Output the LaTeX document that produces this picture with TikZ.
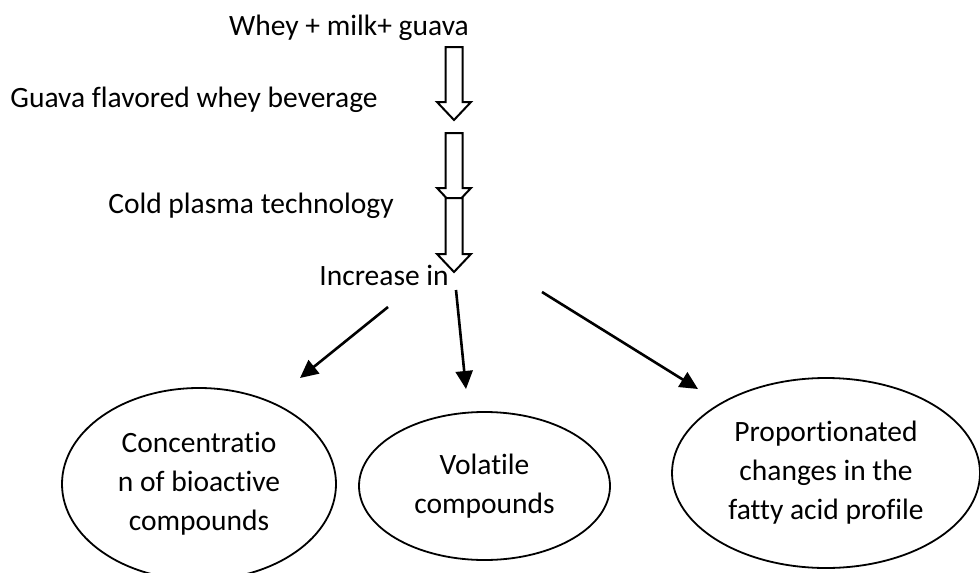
\documentclass[tikz,border=0pt]{standalone}
\usepackage{fontspec}
\setmainfont{Carlito}[Ligatures={NoCommon}]
\usetikzlibrary{shapes.geometric,arrows.meta}
\tikzset{
  lbl/.style={anchor=base,inner sep=0pt,font=\fontsize{29.5}{39}\selectfont},
  oval/.style={draw,ellipse,line width=1.8pt,inner sep=0pt,align=center,font=\fontsize{29.5}{39}\selectfont},
  blockarrow/.style={draw,fill=white,line width=2pt,line join=miter},
  conn/.style={line width=2.6pt,-{Triangle[length=18pt,width=17pt]}},
}
\newcommand\myblockarrow[4]{% x-center, top, head start, tip
  \draw[blockarrow] (#1-8.5,#2) -- (#1+8.5,#2) -- (#1+8.5,#3) -- (#1+17,#3) -- (#1,#4)
    -- (#1-17,#3) -- (#1-8.5,#3) -- cycle;}
\begin{document}
\begin{tikzpicture}[x=1pt,y=-1pt]
\clip (0,0) rectangle (980,573);
\fill[white] (0,0) rectangle (980,573);
\node[lbl] (whey) at (349,35) {Whey + milk+ guava};
\node[lbl] (bev) at (194,107) {Guava flavored whey beverage};
\node[lbl] (cold) at (251,213) {Cold plasma technology};
\node[lbl] (inc) at (384,285) {Increase in};
\myblockarrow{454}{47}{102}{120}
\myblockarrow{454}{133}{188}{206}
\myblockarrow{454}{198}{254}{272}
\node[oval,minimum width=274pt,minimum height=192pt] (conc) at (199,484) {Concentratio\\n of bioactive\\compounds};
\node[oval,minimum width=251pt,minimum height=148pt] (vol) at (484.5,486) {Volatile\\compounds};
\node[oval,minimum width=308pt,minimum height=190pt] (fat) at (826,473) {Proportionated\\changes in the\\fatty acid profile};
\coordinate (s1) at (388,307);
\coordinate (e1) at (300,378);
\coordinate (s2) at (456,290);
\coordinate (e2) at (466,389);
\coordinate (s3) at (542,292);
\coordinate (e3) at (698,389);
\draw[conn] (s1) -- (e1);
\draw[conn] (s2) -- (e2);
\draw[conn] (s3) -- (e3);
\end{tikzpicture}
\end{document}
